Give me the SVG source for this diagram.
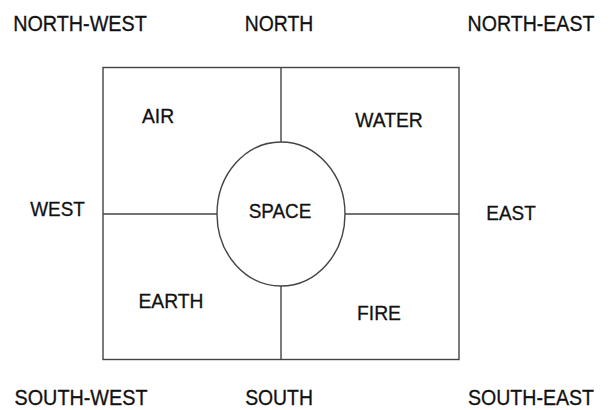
<svg xmlns="http://www.w3.org/2000/svg" width="611" height="410" viewBox="0 0 611 410">
<style>
.lbl{font-family:"Liberation Sans",Arial,sans-serif;font-size:21px;fill:#111;stroke:#111;stroke-width:0.3;text-anchor:middle}
.big{font-size:22px}
.ln{stroke:#444;stroke-width:1.4;fill:none}
</style>
<rect width="611" height="410" fill="#fff"/>
<g id="frame"><rect class="ln" x="103" y="67.5" width="356" height="292"/></g>
<g id="connectors">
<line class="ln" x1="281" y1="67.5" x2="281" y2="142"/>
<line class="ln" x1="281" y1="286" x2="281" y2="359.5"/>
<line class="ln" x1="103" y1="214" x2="217" y2="214"/>
<line class="ln" x1="345" y1="214" x2="459" y2="214"/>
</g>
<g id="space"><ellipse class="ln" cx="281" cy="214" rx="64" ry="72"/><text class="lbl" transform="translate(280,218) scale(0.9,1)">SPACE</text></g>
<g id="air"><text class="lbl" transform="translate(158,123) scale(0.92,1)">AIR</text></g>
<g id="water"><text class="lbl" transform="translate(389,127) scale(0.92,1)">WATER</text></g>
<g id="earth"><text class="lbl" transform="translate(171,308) scale(0.92,1)">EARTH</text></g>
<g id="fire"><text class="lbl" transform="translate(379,320) scale(0.92,1)">FIRE</text></g>
<g id="north-west"><text class="lbl big" transform="translate(80,31) scale(0.9,1)">NORTH-WEST</text></g>
<g id="north"><text class="lbl big" transform="translate(279,31) scale(0.88,1)">NORTH</text></g>
<g id="north-east"><text class="lbl big" transform="translate(531,31) scale(0.89,1)">NORTH-EAST</text></g>
<g id="west"><text class="lbl" transform="translate(57.5,216) scale(0.9,1)">WEST</text></g>
<g id="east"><text class="lbl" transform="translate(511,220) scale(0.9,1)">EAST</text></g>
<g id="south-west"><text class="lbl big" transform="translate(81,405) scale(0.9,1)">SOUTH-WEST</text></g>
<g id="south"><text class="lbl big" transform="translate(279,405) scale(0.88,1)">SOUTH</text></g>
<g id="south-east"><text class="lbl big" transform="translate(531,405) scale(0.89,1)">SOUTH-EAST</text></g>
</svg>
